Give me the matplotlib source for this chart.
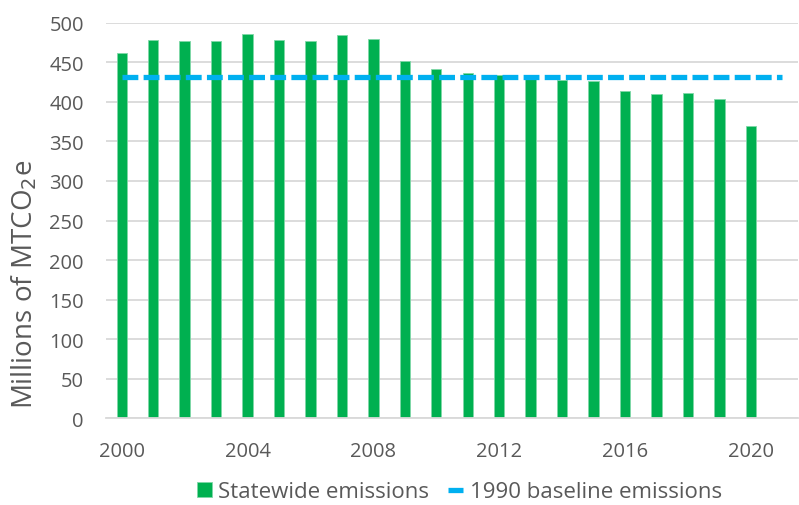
import matplotlib
matplotlib.use("Agg")
import matplotlib.pyplot as plt
import numpy as np

years = list(range(2000, 2021))
emissions = [462, 478, 477, 477, 486, 478, 477, 484, 479, 451, 442,
             437, 434, 431, 428, 426, 414, 410, 411, 404, 369]
baseline_years = list(range(2000, 2022))
baseline_value = 431
baseline = [baseline_value] * len(baseline_years)
xtick_labels = ["2000", "2004", "2008", "2012", "2016", "2020"]
yticks = [0, 50, 100, 150, 200, 250, 300, 350, 400, 450, 500]

plt.rcParams['font.family'] = ['Open Sans', 'DejaVu Sans']

fig = plt.figure(figsize=(7.99, 5.06), dpi=100)
ax = fig.add_axes([0.1327, 0.1713, 0.866, 0.7819])

green = "#00B050"
blue = "#00B0F0"
grid = "#D9D9D9"
txt = "#595959"

bars = ax.bar(years, emissions, width=0.33, color=green, edgecolor="#7FD8A7",
              linewidth=0.6, zorder=2, label="Statewide emissions")
line, = ax.plot(baseline_years, baseline, color=blue, linewidth=3.8,
                dashes=(3, 1), dash_capstyle="butt", zorder=3,
                label="1990 baseline emissions")

ax.set_xlim(1999.5, 2021.5)
ax.set_ylim(0, 500)
ax.set_yticks(yticks)
ax.set_xticks([int(t) for t in xtick_labels])
ax.set_xticklabels(xtick_labels)
ax.yaxis.grid(True, color=grid, linewidth=1.3, zorder=0)
ax.set_axisbelow(True)
for s in ["top", "right", "left"]:
    ax.spines[s].set_visible(False)
ax.spines["bottom"].set_color(grid)
ax.spines["bottom"].set_linewidth(1.3)
ax.tick_params(axis="both", length=0, labelsize=14.5, labelcolor=txt)
ax.tick_params(axis="y", pad=16)
ax.tick_params(axis="x", pad=16)

ax.set_ylabel("Millions of MTCO$_2$e", fontsize=20, color=txt)
ax.yaxis.set_label_coords(-0.097, 0.342)

leg = fig.legend([bars, line], ["Statewide emissions", "1990 baseline emissions"],
                 loc="center", bbox_to_anchor=(0.575, 0.026), ncol=2,
                 frameon=False, fontsize=16, labelcolor=txt,
                 handlelength=0.68, handleheight=0.68, handletextpad=0.3,
                 columnspacing=0.85, borderaxespad=0, borderpad=0)

fig.savefig("out.png", dpi=100)
